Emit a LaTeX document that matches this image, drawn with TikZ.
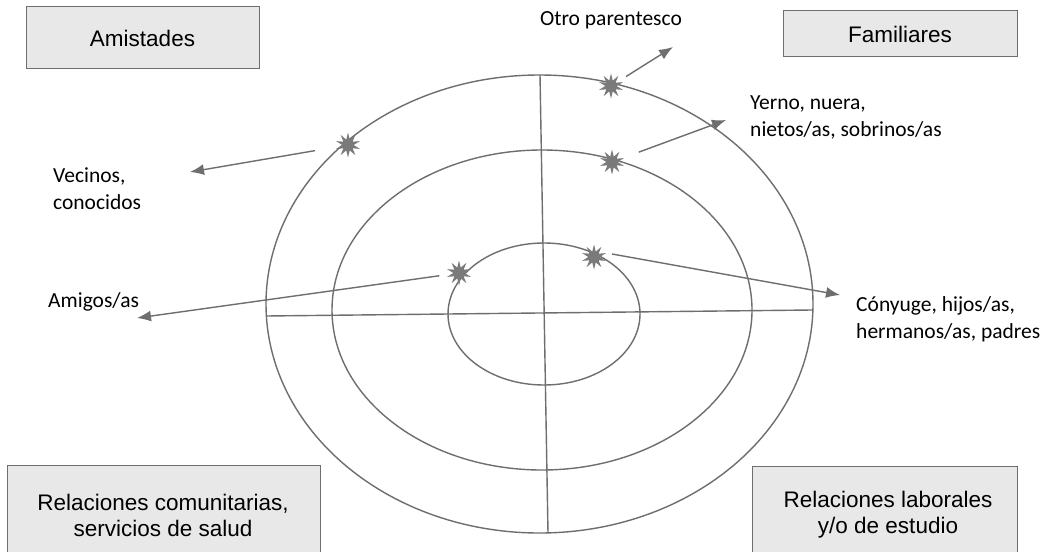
\documentclass[tikz,border=0pt]{standalone}
\usepackage{fontspec}
\setmainfont{Carlito}
\newfontfamily\arialf{Liberation Sans}
\usetikzlibrary{shapes.geometric,arrows.meta}
\definecolor{lin}{HTML}{6E6E6E}
\definecolor{boxfill}{HTML}{E8E8E8}
\definecolor{starc}{HTML}{7A7A7A}
\tikzset{
  ring/.style={draw=lin,line width=1.4pt},
  divline/.style={draw=lin,line width=1.4pt},
  catbox/.style={draw=lin,fill=boxfill,line width=1pt},
  cattext/.style={font=\arialf\fontsize{22.5}{26}\selectfont,align=center,text=black},
  lbl/.style={font=\fontsize{21.5}{27}\selectfont,align=left,anchor=west,inner sep=0pt,text=black},
  spark/.style={star,star points=10,star point ratio=2.2,minimum size=25pt,inner sep=0pt,fill=starc,draw=none},
  arr/.style={draw=lin,line width=1.4pt,-{Latex[length=14pt,width=11pt]}}
}
\begin{document}
\begin{tikzpicture}[x=1pt,y=-1pt]
\useasboundingbox (0,0) rectangle (1048,551);
\clip (0,0) rectangle (1048,551);
\fill[white] (0,0) rectangle (1048,551);
% boxes
\draw[catbox] (26,7) rectangle (259,68);
\node[cattext] (amis) at (142.5,38) {Amistades};
\draw[catbox] (783,11) rectangle (1017,57);
\node[cattext] (fam) at (900,34) {Familiares};
\draw[catbox] (7,465) rectangle (320,570);
\node[cattext] (com) at (163,515) {Relaciones comunitarias,\\servicios de salud};
\draw[catbox] (752,466) rectangle (1017,570);
\node[cattext] (lab) at (888,515) {Relaciones laborales\\y/o de estudio};
% rings
\draw[ring] (539.5,304) ellipse [x radius=273.5, y radius=229];
\draw[ring] (542,310) ellipse [x radius=210, y radius=160];
\draw[ring] (544,314) ellipse [x radius=96, y radius=71];
% dividers
\coordinate (vt) at (540,75);
\coordinate (vb) at (548,533);
\coordinate (hl) at (266,316);
\coordinate (hr) at (812,310);
\draw[divline] (vt) -- (vb);
\draw[divline] (hl) -- (hr);
% stars
\node[spark] (s1) at (611,86) {};
\node[spark] (s2) at (612,162) {};
\node[spark] (s3) at (348,145) {};
\node[spark] (s4) at (459,273) {};
\node[spark] (s5) at (594,257) {};
% labels
\node[lbl,anchor=center] (l1) at (611,20) {Otro parentesco};
\node[lbl] (l2) at (750,117) {Yerno, nuera,\\nietos/as, sobrinos/as};
\node[lbl] (l3) at (53,189) {Vecinos,\\conocidos};
\node[lbl] (l4) at (48,302) {Amigos/as};
\node[lbl] (l5) at (856,319) {Cónyuge, hijos/as,\\hermanos/as, padres};
% arrow tips
\coordinate (t1) at (673,47);
\coordinate (t2) at (726,120);
\coordinate (t3) at (190,172);
\coordinate (t4) at (137,318);
\coordinate (t5) at (840,295);
\coordinate (a5) at (612,254);
\draw[arr,shorten <=11pt] (s1) -- (t1);
\draw[arr,shorten <=17pt] (s2) -- (t2);
\draw[arr,shorten <=25pt] (s3) -- (t3);
\draw[arr,shorten <=12pt] (s4) -- (t4);
\draw[arr] (a5) -- (t5);
\end{tikzpicture}
\end{document}
